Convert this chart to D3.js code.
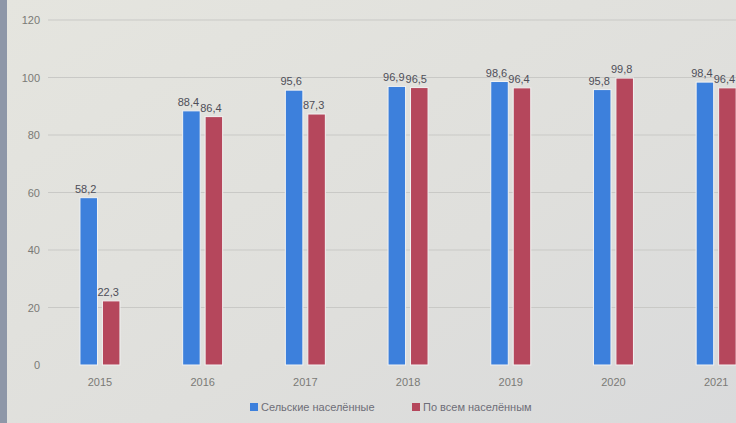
<!DOCTYPE html>
<html>
<head>
<meta charset="utf-8">
<script src="https://cdn.jsdelivr.net/npm/d3@7"></script>
<style>
  body { margin: 0; background: #dcdbd6; }
  svg { display: block; font-family: "Liberation Sans", Arial, sans-serif; }
  .tick text { fill: #7a7a76; font-size: 11px; }
  .lbl { fill: #4e4e58; font-size: 11px; }
</style>
</head>
<body>
<div id="div"></div>
<script>
const w = 736;
const h = 423;
const years = ["2015", "2016", "2017", "2018", "2019", "2020", "2021"];
const series = ["Сельские населённые", "По всем населённым"];
const blueData = [58.2, 88.4, 95.6, 96.9, 98.6, 95.8, 98.4];
const redData = [22.3, 86.4, 87.3, 96.5, 96.4, 99.8, 96.4];
const yTicks = [0, 20, 40, 60, 80, 100, 120];
const colors = ["#3d80dc", "#b5475c"];

const plotLeft = 48;
const plotBottom = 365;
const plotTop = 20;
const step = 102.7;

let svg = d3.select("#div")
    .append("svg")
    .attr("width", w)
    .attr("height", h);

// photo-ish background
let grad = svg.append("defs").append("linearGradient")
    .attr("id", "bg")
    .attr("x1", 0).attr("y1", 0).attr("x2", 1).attr("y2", 1);
grad.append("stop").attr("offset", "0%").attr("stop-color", "#e5e5df");
grad.append("stop").attr("offset", "60%").attr("stop-color", "#dfdfdc");
grad.append("stop").attr("offset", "100%").attr("stop-color", "#d9dadb");

svg.append("rect")
    .attr("width", w)
    .attr("height", h)
    .attr("fill", "url(#bg)");

// left bezel strip
svg.append("rect")
    .attr("width", 7)
    .attr("height", h)
    .attr("fill", "#8e97a8");

var y = d3.scaleLinear()
    .domain([0, 120])
    .range([plotBottom, plotTop]);

var x0 = d3.scaleBand()
    .domain(years)
    .range([plotLeft + 0.6, plotLeft + 0.6 + step * years.length])
    .padding(0);

var x1 = d3.scaleBand()
    .domain(series)
    .range([x0.bandwidth() / 2 - 20, x0.bandwidth() / 2 + 20])
    .paddingInner(0.22);

// grid
svg.append("g")
    .selectAll("line")
    .data(yTicks.slice(1))
    .join("line")
    .attr("x1", plotLeft)
    .attr("x2", w)
    .attr("y1", d => y(d))
    .attr("y2", d => y(d))
    .attr("stroke", "#c9c9c6")
    .attr("stroke-width", 1);

// y axis labels
let yAxis = svg.append("g")
    .attr("transform", "translate(" + (plotLeft - 8) + ",0)")
    .call(d3.axisLeft(y).tickValues(yTicks).tickSize(0).tickPadding(0));
yAxis.select(".domain").remove();

// x axis labels
let xAxis = svg.append("g")
    .attr("transform", "translate(0," + (plotBottom + 6) + ")")
    .call(d3.axisBottom(x0).tickSize(0).tickPadding(7));
xAxis.select(".domain").remove();

const rows = years.map((yr, i) => ({ year: yr, values: [blueData[i], redData[i]] }));

let groups = svg.append("g")
    .selectAll("g")
    .data(rows)
    .join("g")
    .attr("transform", d => "translate(" + x0(d.year) + ",0)");

groups.selectAll("rect")
    .data(d => d.values.map((v, k) => ({ key: series[k], v: v, k: k })))
    .join("rect")
    .attr("x", d => x1(d.key))
    .attr("y", d => y(d.v))
    .attr("width", x1.bandwidth())
    .attr("height", d => y(0) - y(d.v))
    .attr("fill", d => colors[d.k])
    .attr("stroke", "#f2f2f2")
    .attr("stroke-width", 1);

groups.selectAll("text.lbl")
    .data(d => d.values.map((v, k) => ({ key: series[k], v: v, k: k })))
    .join("text")
    .attr("class", "lbl")
    .attr("text-anchor", "middle")
    .attr("x", d => x1(d.key) + x1.bandwidth() / 2 - 3)
    .attr("y", d => y(d.v) - 5)
    .text(d => d3.format(".1f")(d.v).replace(".", ","));

// legend
let legend = svg.append("g")
    .attr("transform", "translate(250,410)");

let items = legend.selectAll("g")
    .data(series)
    .join("g")
    .attr("transform", (d, i) => "translate(" + (i * 162) + ",0)");

items.append("rect")
    .attr("x", 0)
    .attr("y", -7)
    .attr("width", 8)
    .attr("height", 8)
    .attr("fill", (d, i) => colors[i]);

items.append("text")
    .attr("x", 11)
    .attr("y", 1)
    .attr("fill", "#6e6e78")
    .style("font-size", "11px")
    .text(d => d);
</script>
</body>
</html>
